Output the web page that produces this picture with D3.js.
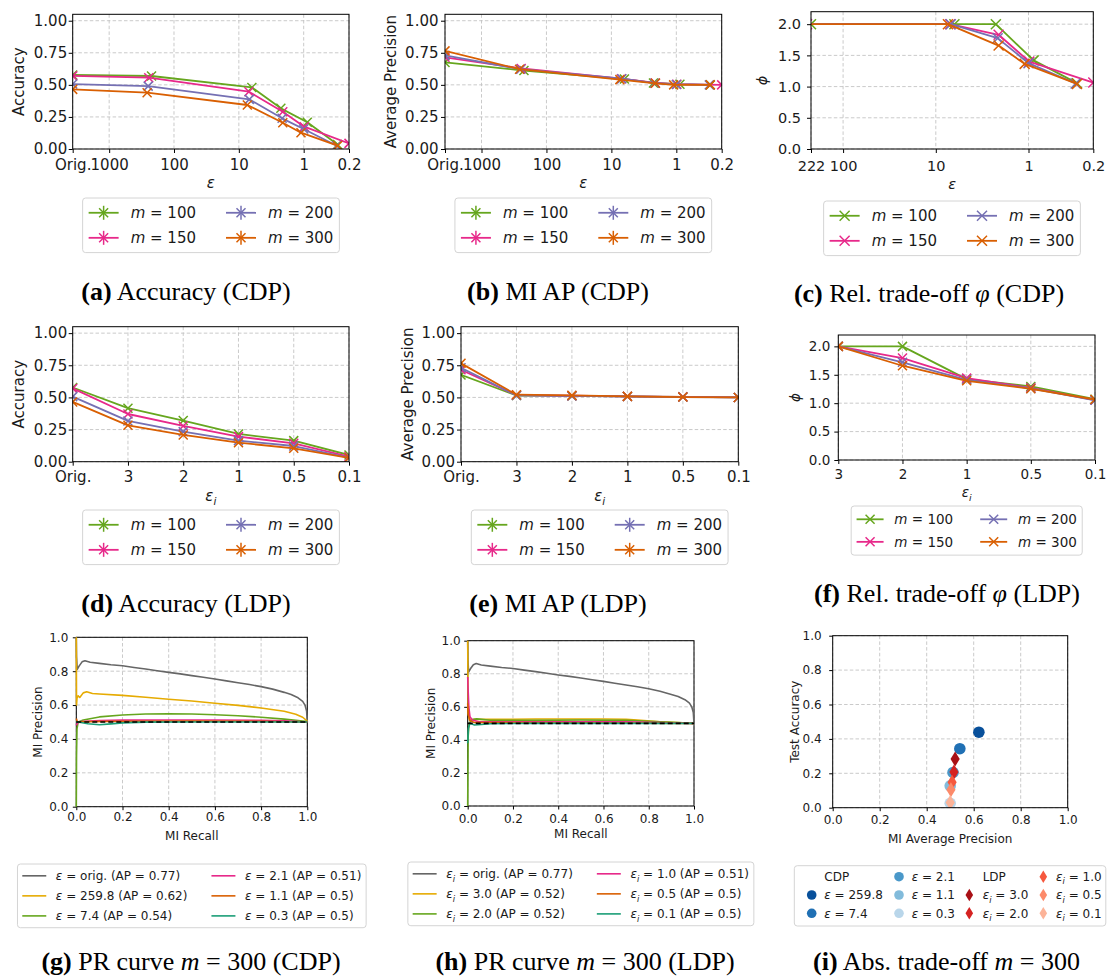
<!DOCTYPE html>
<html><head><meta charset="utf-8">
<script src="https://cdn.jsdelivr.net/npm/d3@7"></script>
<style>
body{margin:0;background:#fff;}
svg{display:block;font-family:"DejaVu Sans",sans-serif;}
</style></head><body>
<svg id="fig" width="1107" height="976"></svg>
<script>
// ---------------- data ----------------
const mValues = [100, 150, 200, 300];
const seriesColors = ["#66a61e", "#e7298a", "#7570b3", "#d95f02"];

// CDP: epsilon reached for each m (the original model is the first entry of the metric arrays)
const cdpEpsilon = [
  [222, 6.3, 2.25, 0.88, 0.3],
  [245, 7.0, 2.1, 0.98, 0.2],
  [250, 6.9, 2.15, 1.0, 0.31],
  [259.8, 7.4, 2.1, 1.1, 0.3]
];
const cdpAccuracy = [
  [0.577, 0.569, 0.480, 0.317, 0.208, 0.035],
  [0.570, 0.556, 0.447, 0.290, 0.174, 0.044],
  [0.506, 0.490, 0.387, 0.239, 0.156, 0.025],
  [0.465, 0.439, 0.343, 0.205, 0.127, 0.026]
];
const cdpAP = [
  [0.675, 0.612, 0.545, 0.515, 0.505, 0.500],
  [0.715, 0.628, 0.548, 0.515, 0.505, 0.500],
  [0.730, 0.622, 0.548, 0.513, 0.503, 0.500],
  [0.765, 0.622, 0.541, 0.512, 0.500, 0.500]
];
const cdpPhi = [
  [2.0, 2.0, 2.0, 1.42, 1.055],
  [2.0, 2.0, 1.83, 1.40, 1.065],
  [2.0, 2.0, 1.776, 1.375, 1.05],
  [2.0, 2.0, 1.657, 1.364, 1.043]
];
const cdpTicks = [1000, 100, 10, 1, 0.2];
const cdpPhiTicks = [222, 100, 10, 1, 0.2];

// LDP: per-record epsilon_i
const ldpEpsilonLabels = ["Orig.", "3", "2", "1", "0.5", "0.1"];
const ldpAccuracy = [
  [0.577, 0.416, 0.320, 0.216, 0.164, 0.052],
  [0.570, 0.371, 0.278, 0.195, 0.143, 0.039],
  [0.506, 0.317, 0.234, 0.164, 0.122, 0.031],
  [0.465, 0.283, 0.208, 0.148, 0.104, 0.030]
];
const ldpAP = [
  [0.675, 0.515, 0.512, 0.508, 0.504, 0.500],
  [0.715, 0.518, 0.513, 0.508, 0.504, 0.500],
  [0.730, 0.516, 0.512, 0.507, 0.503, 0.500],
  [0.765, 0.521, 0.516, 0.508, 0.503, 0.500]
];
const ldpPhi = [
  [2.0, 2.0, 1.424, 1.294, 1.07],
  [2.0, 1.794, 1.441, 1.27, 1.055],
  [2.0, 1.72, 1.41, 1.26, 1.05],
  [2.0, 1.659, 1.394, 1.253, 1.065]
];

// Precision-recall curves of the membership inference attack, m = 300
const prColors = ["#666666", "#e6ab02", "#66a61e", "#e7298a", "#d95f02", "#1b9e77"];
const prOrigCurve = [[0,1],[0.001,0.886],[0.004,0.81],[0.012,0.83],[0.025,0.855],[0.0375,0.862],[0.06,0.853],[0.1,0.846],[0.15,0.838],[0.2,0.832],[0.25,0.822],[0.3,0.813],[0.35,0.803],[0.4,0.793],[0.45,0.784],[0.5,0.774],[0.55,0.764],[0.6,0.754],[0.65,0.743],[0.7,0.732],[0.75,0.721],[0.8,0.709],[0.85,0.694],[0.9,0.675],[0.93,0.662],[0.96,0.643],[0.98,0.622],[0.99,0.6],[0.997,0.565],[1,0.5]];
const prCdpLabels = ["orig.", "259.8", "7.4", "2.1", "1.1", "0.3"];
const prCdpAP = [0.77, 0.62, 0.54, 0.51, 0.5, 0.5];
const prCdpCurves = [
  prOrigCurve,
  [[0,1],[0.001,0.6],[0.003,0.64],[0.008,0.655],[0.015,0.645],[0.03,0.672],[0.045,0.678],[0.07,0.668],[0.1,0.665],[0.2,0.657],[0.3,0.646],[0.4,0.634],[0.5,0.624],[0.6,0.611],[0.7,0.598],[0.8,0.583],[0.9,0.563],[0.95,0.546],[0.98,0.528],[1,0.505]],
  [[0,0],[0.001,0.3],[0.003,0.46],[0.008,0.5],[0.03,0.512],[0.1,0.53],[0.2,0.541],[0.3,0.547],[0.4,0.549],[0.5,0.547],[0.6,0.543],[0.7,0.537],[0.8,0.528],[0.9,0.517],[1,0.502]],
  [[0,0.48],[0.005,0.495],[0.02,0.502],[0.1,0.508],[0.2,0.511],[0.4,0.512],[0.6,0.512],[0.8,0.51],[0.9,0.507],[1,0.5]],
  [[0,0.52],[0.005,0.5],[0.05,0.502],[0.2,0.504],[0.5,0.505],[0.8,0.504],[1,0.5]],
  [[0,0.5],[0.02,0.497],[0.05,0.49],[0.1,0.484],[0.15,0.489],[0.2,0.495],[0.3,0.499],[0.5,0.5],[1,0.5]]
];
const prLdpLabels = ["orig.", "3.0", "2.0", "1.0", "0.5", "0.1"];
const prLdpAP = [0.77, 0.52, 0.52, 0.51, 0.5, 0.5];
const prLdpCurves = [
  prOrigCurve,
  [[0,1],[0.002,0.56],[0.008,0.52],[0.03,0.524],[0.1,0.524],[0.2,0.525],[0.3,0.526],[0.4,0.526],[0.5,0.526],[0.6,0.526],[0.7,0.525],[0.75,0.52],[0.85,0.51],[0.95,0.503],[1,0.5]],
  [[0,0],[0.002,0.42],[0.006,0.5],[0.02,0.523],[0.04,0.527],[0.1,0.519],[0.3,0.518],[0.5,0.52],[0.7,0.518],[0.85,0.51],[1,0.5]],
  [[0,0.78],[0.002,0.7],[0.005,0.6],[0.01,0.54],[0.02,0.52],[0.05,0.51],[0.3,0.51],[0.7,0.509],[1,0.5]],
  [[0,0.62],[0.003,0.55],[0.01,0.515],[0.03,0.505],[0.5,0.503],[1,0.5]],
  [[0,0.38],[0.003,0.47],[0.01,0.5],[0.03,0.49],[0.06,0.493],[0.1,0.498],[0.3,0.5],[1,0.5]]
];
const chancePrecision = 0.5;

// Absolute trade-off (m = 300): labels and colours; coordinates come from the m = 300 series above
const scatterCdpLabels = ["259.8", "7.4", "2.1", "1.1", "0.3"];
const scatterLdpLabels = ["3.0", "2.0", "1.0", "0.5", "0.1"];
const bluesShades = ["#08509b", "#2070b4", "#4a98c9", "#82bbdb", "#b9d6ea"];
const redsShades = ["#a91016", "#d52221", "#f6583e", "#fc8a6a", "#fcb398"];

// ---------------- helpers ----------------
const svg = d3.select("#fig");
const defs = svg.append("defs");
let clipCount = 0;
const TXT = "#1a1a1a";

// text made of styled runs (italic, bold, subscript)
function rich(sel, parts, fs) {
  let shifted = 0;
  parts.forEach(p => {
    const t = sel.append("tspan").text(p.t);
    if (p.i) t.attr("font-style", "italic");
    if (p.b) t.attr("font-weight", "bold");
    if (p.f) t.attr("font-family", p.f);
    if (p.sub) {
      t.attr("font-size", fs * 0.7).attr("dy", fs * 0.28);
      shifted = fs * 0.28;
    } else if (shifted) {
      t.attr("dy", -shifted);
      shifted = 0;
    }
  });
  return sel;
}

function panel(c) {
  const g = svg.append("g");
  const x = c.x.range([c.x0, c.x1]);
  const y = c.y.range([c.y1, c.y0]);
  const grid = g.append("g").attr("stroke", "#c4c4c4").attr("stroke-width", 0.9).attr("stroke-dasharray", "3.5,2.2");
  grid.selectAll(null).data(c.xTicks).join("line")
    .attr("x1", d => x(d)).attr("x2", d => x(d)).attr("y1", c.y0).attr("y2", c.y1);
  grid.selectAll(null).data(c.yTicks).join("line")
    .attr("y1", d => y(d)).attr("y2", d => y(d)).attr("x1", c.x0).attr("x2", c.x1);
  const id = "clip" + (clipCount++);
  defs.append("clipPath").attr("id", id).append("rect")
    .attr("x", c.x0).attr("y", c.y0).attr("width", c.x1 - c.x0).attr("height", c.y1 - c.y0);
  const plot = g.append("g").attr("clip-path", `url(#${id})`);
  const free = g.append("g");
  const fr = g.append("g");
  const ts = c.ts || 4;
  const xa = d3.axisBottom(x).tickValues(c.xTicks).tickFormat(c.xFormat).tickSize(ts).tickSizeOuter(0).tickPadding(c.xGap - ts);
  const ya = d3.axisLeft(y).tickValues(c.yTicks).tickFormat(c.yFormat).tickSize(ts).tickSizeOuter(0).tickPadding(c.yGap - ts);
  [ [xa, `translate(0,${c.y1})`], [ya, `translate(${c.x0},0)`] ].forEach(([ax, tr]) => {
    const a = fr.append("g").attr("transform", tr).call(ax);
    a.attr("font-size", c.fs).attr("font-family", null);
    a.select(".domain").remove();
    a.selectAll("line").attr("stroke", "#000").attr("stroke-width", 1);
    a.selectAll("text").attr("fill", TXT);
  });
  fr.append("rect").attr("x", c.x0).attr("y", c.y0).attr("width", c.x1 - c.x0).attr("height", c.y1 - c.y0)
    .attr("fill", "none").attr("stroke", "#000").attr("stroke-width", 1);
  // axis titles
  const yl = fr.append("text").attr("transform", `translate(${c.ylx},${(c.y0 + c.y1) / 2}) rotate(-90)`)
    .attr("text-anchor", "middle").attr("dy", "0.35em").attr("font-size", c.fs).attr("fill", TXT);
  rich(yl, c.ylabel, c.fs);
  const xl = fr.append("text").attr("x", (c.x0 + c.x1) / 2).attr("y", c.xly)
    .attr("text-anchor", "middle").attr("font-size", c.fs).attr("fill", TXT);
  rich(xl, c.xlabel, c.fs);
  return { g, plot, free, fr, x, y };
}

const crossPath = s => `M${-s},${-s}L${s},${s}M${-s},${s}L${s},${-s}`;

function drawSeries(p, xs, ys, color, ms) {
  const pts = xs.map((xv, i) => [p.x(xv), p.y(ys[i])]);
  p.plot.append("path").attr("d", d3.line()(pts)).attr("fill", "none")
    .attr("stroke", color).attr("stroke-width", 1.8).attr("stroke-linejoin", "round");
  p.plot.selectAll(null).data(pts).join("path").attr("d", crossPath(ms))
    .attr("transform", d => `translate(${d[0]},${d[1]})`)
    .attr("fill", "none").attr("stroke", color).attr("stroke-width", 1.5);
}

function legend(o) {
  const g = svg.append("g");
  const fs = o.fs, pad = 0.4 * fs, hl = o.hl || 2 * fs, htp = 0.8 * fs, cs = 2 * fs, rowH = 1.17 * fs, ls = 0.5 * fs;
  const rows = o.rows, ncol = Math.ceil(o.items.length / rows);
  const box = g.append("rect");
  const texts = o.items.map(it => rich(g.append("text").attr("font-size", fs).attr("fill", TXT).attr("dy", "0.36em"), it.parts, fs));
  const widths = texts.map(t => t.node().getComputedTextLength());
  const colW = d3.range(ncol).map(cI => d3.max(widths.slice(cI * rows, (cI + 1) * rows)));
  const W = 2 * pad + d3.sum(colW) + ncol * (hl + htp) + (ncol - 1) * cs;
  const H = 2 * pad + rows * rowH + (rows - 1) * ls;
  const left = o.cx - W / 2;
  box.attr("x", left).attr("y", o.top).attr("width", W).attr("height", H).attr("rx", 3)
    .attr("fill", "#fff").attr("fill-opacity", 0.8).attr("stroke", "#d4d4d4").attr("stroke-width", 1);
  let xc = left + pad;
  for (let cI = 0; cI < ncol; cI++) {
    for (let r = 0; r < rows; r++) {
      const k = cI * rows + r;
      if (k >= o.items.length) break;
      const cy = o.top + pad + rowH / 2 + r * (rowH + ls);
      o.handle(g, o.items[k], xc, xc + hl, cy);
      texts[k].attr("x", xc + hl + htp).attr("y", cy);
    }
    xc += hl + htp + colW[cI] + cs;
  }
}

function mItems(order) {
  return order.map(i => ({ color: seriesColors[i], parts: [{ t: "m", i: 1 }, { t: " = " + mValues[i] }] }));
}
const lineHandle = (bar, ms) => (g, it, a, b, cy) => {
  g.append("line").attr("x1", a).attr("x2", b).attr("y1", cy).attr("y2", cy).attr("stroke", it.color).attr("stroke-width", 1.8);
  const m = (a + b) / 2;
  if (ms) g.append("path").attr("d", crossPath(ms)).attr("transform", `translate(${m},${cy})`).attr("fill", "none").attr("stroke", it.color).attr("stroke-width", 1.5);
  if (bar) g.append("line").attr("x1", m).attr("x2", m).attr("y1", cy - bar).attr("y2", cy + bar).attr("stroke", it.color).attr("stroke-width", 1.5);
};

function caption(cx, by, parts) {
  const t = svg.append("text").attr("x", cx).attr("y", by).attr("text-anchor", "middle")
    .attr("font-family", "'Liberation Serif','Times New Roman',serif").attr("font-size", 26).attr("fill", "#000");
  rich(t, parts, 26);
}

const eps = [{ t: "ε", i: 1 }];
const epsI = [{ t: "ε", i: 1 }, { t: "i", i: 1, sub: 1 }];
const fmt2 = d3.format(".2f"), fmt1 = d3.format(".1f"), fmtG = d3.format("~g");
const accTicks = [0, 0.25, 0.5, 0.75, 1.0];
const phiTicks = [0, 0.5, 1.0, 1.5, 2.0];
const unitTicks = [0, 0.2, 0.4, 0.6, 0.8, 1.0];
const origPos = 3650; // position of the non-private model on the log epsilon axis
const legendOrder = [0, 1, 2, 3];

// ---------------- (a) Accuracy (CDP) ----------------
{
  const p = panel({ x0: 72.7, x1: 349, y0: 14.3, y1: 149, x: d3.scaleLog().domain([origPos, 0.2]), y: d3.scaleLinear().domain([0, 1.05]),
    xTicks: [origPos, ...cdpTicks], xFormat: d => d === origPos ? "Orig." : fmtG(d), yTicks: accTicks, yFormat: fmt2,
    fs: 15, xGap: 10.8, yGap: 5.5, ylx: 19, xly: 188, ylabel: [{ t: "Accuracy" }], xlabel: eps });
  cdpAccuracy.forEach((s, i) => drawSeries(p, [origPos, ...cdpEpsilon[i]], s, seriesColors[i], 4.5));
  legend({ cx: 211, top: 198, fs: 15, rows: 2, items: mItems(legendOrder), handle: lineHandle(7, 4.5) });
  caption(186, 300, [{ t: "(a)", b: 1 }, { t: " Accuracy (CDP)" }]);
}
// ---------------- (b) MI AP (CDP) ----------------
{
  const p = panel({ x0: 445, x1: 721.7, y0: 14.3, y1: 149, x: d3.scaleLog().domain([origPos, 0.2]), y: d3.scaleLinear().domain([0, 1.05]),
    xTicks: [origPos, ...cdpTicks], xFormat: d => d === origPos ? "Orig." : fmtG(d), yTicks: accTicks, yFormat: fmt2,
    fs: 15, xGap: 10.8, yGap: 6.5, ylx: 391, xly: 188, ylabel: [{ t: "Average Precision" }], xlabel: eps });
  cdpAP.forEach((s, i) => drawSeries(p, [origPos, ...cdpEpsilon[i]], s, seriesColors[i], 4.5));
  legend({ cx: 583.3, top: 198, fs: 15, rows: 2, items: mItems(legendOrder), handle: lineHandle(7, 4.5) });
  caption(558, 300, [{ t: "(b)", b: 1 }, { t: " MI AP (CDP)" }]);
}
// ---------------- (c) Relative trade-off (CDP) ----------------
{
  const p = panel({ x0: 811, x1: 1093.3, y0: 11.7, y1: 149, x: d3.scaleLog().domain([222, 0.2]), y: d3.scaleLinear().domain([0, 2.2]),
    xTicks: cdpPhiTicks, xFormat: fmtG, yTicks: phiTicks, yFormat: fmt1,
    fs: 14.5, xGap: 11.6, yGap: 10, ylx: 761.7, xly: 189, ylabel: [{ t: "ϕ", i: 1 }], xlabel: eps });
  cdpPhi.forEach((s, i) => drawSeries(p, cdpEpsilon[i], s, seriesColors[i], 5));
  legend({ cx: 952, top: 201, fs: 15, rows: 2, items: mItems(legendOrder), handle: lineHandle(0, 5) });
  caption(929, 302, [{ t: "(c)", b: 1 }, { t: " Rel. trade-off " }, { t: "φ", i: 1 }, { t: " (CDP)" }]);
}
// ---------------- (d) Accuracy (LDP) ----------------
{
  const p = panel({ x0: 72.7, x1: 349, y0: 326.7, y1: 461.7, x: d3.scalePoint().domain(ldpEpsilonLabels), y: d3.scaleLinear().domain([0, 1.05]),
    xTicks: ldpEpsilonLabels, xFormat: d => d, yTicks: accTicks, yFormat: fmt2,
    fs: 15, xGap: 9.8, yGap: 5.5, ylx: 19, xly: 501, ylabel: [{ t: "Accuracy" }], xlabel: epsI });
  ldpAccuracy.forEach((s, i) => drawSeries(p, ldpEpsilonLabels, s, seriesColors[i], 4.5));
  legend({ cx: 211, top: 510, fs: 15, rows: 2, items: mItems(legendOrder), handle: lineHandle(7, 4.5) });
  caption(186, 612, [{ t: "(d)", b: 1 }, { t: " Accuracy (LDP)" }]);
}
// ---------------- (e) MI AP (LDP) ----------------
{
  const p = panel({ x0: 461, x1: 738.3, y0: 326.7, y1: 461.7, x: d3.scalePoint().domain(ldpEpsilonLabels), y: d3.scaleLinear().domain([0, 1.05]),
    xTicks: ldpEpsilonLabels, xFormat: d => d, yTicks: accTicks, yFormat: fmt2,
    fs: 15, xGap: 9.8, yGap: 6, ylx: 407.5, xly: 501, ylabel: [{ t: "Average Precision" }], xlabel: epsI });
  ldpAP.forEach((s, i) => drawSeries(p, ldpEpsilonLabels, s, seriesColors[i], 4.5));
  legend({ cx: 599.7, top: 510, fs: 15, rows: 2, items: mItems(legendOrder), handle: lineHandle(7, 4.5) });
  caption(558, 612, [{ t: "(e)", b: 1 }, { t: " MI AP (LDP)" }]);
}
// ---------------- (f) Relative trade-off (LDP) ----------------
{
  const labels = ldpEpsilonLabels.slice(1);
  const p = panel({ x0: 838.3, x1: 1095, y0: 335, y1: 460, x: d3.scalePoint().domain(labels), y: d3.scaleLinear().domain([0, 2.2]),
    xTicks: labels, xFormat: d => d, yTicks: phiTicks, yFormat: fmt1,
    fs: 13.5, xGap: 9.6, yGap: 8, ylx: 795.5, xly: 497, ylabel: [{ t: "ϕ", i: 1 }], xlabel: epsI });
  ldpPhi.forEach((s, i) => drawSeries(p, labels, s, seriesColors[i], 4.5));
  legend({ cx: 966.7, top: 506, fs: 13.5, rows: 2, items: mItems(legendOrder), handle: lineHandle(0, 4.5) });
  caption(947, 602, [{ t: "(f)", b: 1 }, { t: " Rel. trade-off " }, { t: "φ", i: 1 }, { t: " (LDP)" }]);
}
// ---------------- (g), (h) PR curves ----------------
function prPanel(r, curves, labels, aps, epsParts, cap) {
  const p = panel({ x0: r.x0, x1: r.x1, y0: r.y0, y1: r.y1, x: d3.scaleLinear().domain([0, 1]), y: d3.scaleLinear().domain([0, 1]),
    xTicks: unitTicks, xFormat: fmt1, yTicks: unitTicks, yFormat: fmt1, ts: 3.5,
    fs: 12, xGap: r.xGap, yGap: r.yGap, ylx: r.ylx, xly: r.xly, ylabel: [{ t: "MI Precision" }], xlabel: [{ t: "MI Recall" }] });
  const line = d3.line().x(d => p.x(d[0])).y(d => p.y(d[1]));
  const layer = p.g.append("g");
  curves.forEach((c, i) => layer.append("path").attr("d", line(c)).attr("fill", "none")
    .attr("stroke", prColors[i]).attr("stroke-width", 1.6).attr("stroke-linejoin", "round"));
  layer.append("line").attr("x1", p.x(0)).attr("x2", p.x(1)).attr("y1", p.y(chancePrecision)).attr("y2", p.y(chancePrecision))
    .attr("stroke", "#000").attr("stroke-width", 1.6).attr("stroke-dasharray", "5,3");
  const items = labels.map((l, i) => ({ color: prColors[i], parts: [...epsParts, { t: ` = ${l} (AP = ${aps[i]})` }] }));
  legend({ cx: (r.x0 + r.x1) / 2, top: r.lt, fs: 12, rows: 3, items, handle: (g, it, a, b, cy) =>
    g.append("line").attr("x1", a).attr("x2", b).attr("y1", cy).attr("y2", cy).attr("stroke", it.color).attr("stroke-width", 1.6) });
  caption(r.cx, 970, cap);
}
prPanel({ x0: 76.3, x1: 307.3, y0: 637.3, y1: 806.7, xGap: 6, yGap: 8, ylx: 38, xly: 839.5, lt: 864, cx: 191 },
  prCdpCurves, prCdpLabels, prCdpAP, eps,
  [{ t: "(g)", b: 1 }, { t: " PR curve " }, { t: "m", i: 1 }, { t: " = 300 (CDP)" }]);
prPanel({ x0: 467.7, x1: 694, y0: 640.7, y1: 806, xGap: 8.8, yGap: 7, ylx: 430.5, xly: 838, lt: 862, cx: 585 },
  prLdpCurves, prLdpLabels, prLdpAP, epsI,
  [{ t: "(h)", b: 1 }, { t: " PR curve " }, { t: "m", i: 1 }, { t: " = 300 (LDP)" }]);

// ---------------- (i) Absolute trade-off ----------------
{
  const p = panel({ x0: 832.7, x1: 1067.7, y0: 635.7, y1: 807.7, x: d3.scaleLinear().domain([0, 1]), y: d3.scaleLinear().domain([0, 1]),
    xTicks: unitTicks, xFormat: fmt1, yTicks: unitTicks, yFormat: fmt1, ts: 3.5,
    fs: 12, xGap: 8.1, yGap: 11, ylx: 794.5, xly: 843, ylabel: [{ t: "Test Accuracy" }], xlabel: [{ t: "MI Average Precision" }] });
  const cdpX = cdpAP[3].slice(1), cdpY = cdpAccuracy[3].slice(1);
  const ldpX = ldpAP[3].slice(1), ldpY = ldpAccuracy[3].slice(1);
  const diamond = (w, h) => `M0,${-h}L${w},0L0,${h}L${-w},0Z`;
  p.plot.selectAll(null).data(cdpX).join("circle").attr("cx", d => p.x(d)).attr("cy", (d, i) => p.y(cdpY[i]))
    .attr("r", 5.8).attr("fill", (d, i) => bluesShades[i]);
  p.plot.selectAll(null).data(ldpX).join("path").attr("d", diamond(4.6, 7.5))
    .attr("transform", (d, i) => `translate(${p.x(d)},${p.y(ldpY[i])})`).attr("fill", (d, i) => redsShades[i]);

  // legend: header + 5 CDP circles, header + 5 LDP diamonds, in 4 columns of 3 rows
  const lg = svg.append("g");
  lg.append("rect").attr("x", 794.3).attr("y", 865.7).attr("width", 311.5).attr("height", 60.3).attr("rx", 3)
    .attr("fill", "#fff").attr("stroke", "#d4d4d4");
  const colM = [811.7, 899, 969.3, 1043.3], colT = [824.3, 911.7, 982.7, 1056], rowY = [876.7, 895, 913.3];
  const entries = [
    { head: "CDP" },
    ...scatterCdpLabels.map((l, i) => ({ shape: "c", color: bluesShades[i], parts: [...eps, { t: " = " + l }] })),
    { head: "LDP" },
    ...scatterLdpLabels.map((l, i) => ({ shape: "d", color: redsShades[i], parts: [...epsI, { t: " = " + l }] }))
  ];
  entries.forEach((e, k) => {
    const cI = Math.floor(k / 3), r = k % 3, cy = rowY[r];
    const t = lg.append("text").attr("x", colT[cI]).attr("y", cy).attr("dy", "0.36em").attr("font-size", 12).attr("fill", TXT);
    if (e.head) { t.text(e.head); return; }
    rich(t, e.parts, 12);
    if (e.shape === "c") lg.append("circle").attr("cx", colM[cI]).attr("cy", cy).attr("r", 4.8).attr("fill", e.color);
    else lg.append("path").attr("d", diamond(3.8, 6.3)).attr("transform", `translate(${colM[cI]},${cy})`).attr("fill", e.color);
  });
  caption(946.5, 970, [{ t: "(i)", b: 1 }, { t: " Abs. trade-off " }, { t: "m", i: 1 }, { t: " = 300" }]);
}
</script>
</body></html>
